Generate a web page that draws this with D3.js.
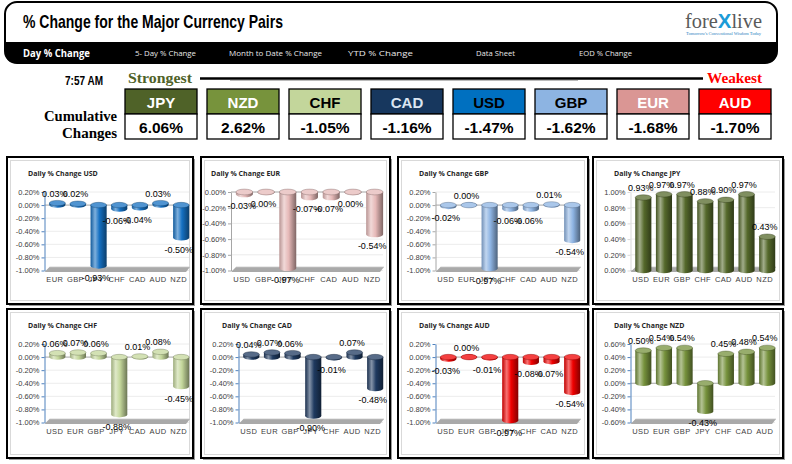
<!DOCTYPE html>
<html><head><meta charset="utf-8">
<script src="https://cdn.jsdelivr.net/npm/d3@7"></script>
<style>body{margin:0;background:#fff}svg{display:block}</style>
</head><body>
<svg id="c" width="792" height="464"></svg>
<script>
// ---------- DATA ----------
const rankCurrencies = ["JPY","NZD","CHF","CAD","USD","GBP","EUR","AUD"];
const cumulativeChanges = [6.06, 2.62, -1.05, -1.16, -1.47, -1.62, -1.68, -1.70];
const navTabs = ["Day % Change","5- Day % Change","Month to Date % Change","YTD % Change","Data Sheet","EOD % Change"];
const timeStamp = "7:57 AM";

const catsUSD = ["EUR","GBP","JPY","CHF","CAD","AUD","NZD"];
const valsUSD = [0.03, 0.02, -0.93, -0.06, -0.04, 0.03, -0.50];
const ticksUSD = [0.2, 0, -0.2, -0.4, -0.6, -0.8, -1.0];

const catsEUR = ["USD","GBP","JPY","CHF","CAD","AUD","NZD"];
const valsEUR = [-0.03, -0.004, -0.97, -0.07, -0.07, -0.004, -0.54];
const ticksEUR = [0, -0.2, -0.4, -0.6, -0.8, -1.0];

const catsGBP = ["USD","EUR","JPY","CHF","CAD","AUD","NZD"];
const valsGBP = [-0.02, 0.00, -0.97, -0.06, -0.06, 0.01, -0.54];
const ticksGBP = [0.2, 0, -0.2, -0.4, -0.6, -0.8, -1.0];

const catsJPY = ["USD","EUR","GBP","CHF","CAD","AUD","NZD"];
const valsJPY = [0.93, 0.97, 0.97, 0.88, 0.90, 0.97, 0.43];
const ticksJPY = [1.0, 0.8, 0.6, 0.4, 0.2, 0];

const catsCHF = ["USD","EUR","GBP","JPY","CAD","AUD","NZD"];
const valsCHF = [0.06, 0.07, 0.06, -0.88, 0.01, 0.08, -0.45];
const ticksCHF = [0.2, 0, -0.2, -0.4, -0.6, -0.8, -1.0];

const catsCAD = ["USD","EUR","GBP","JPY","CHF","AUD","NZD"];
const valsCAD = [0.04, 0.07, 0.06, -0.90, -0.01, 0.07, -0.48];
const ticksCAD = [0.2, 0, -0.2, -0.4, -0.6, -0.8, -1.0];

const catsAUD = ["USD","EUR","GBP","JPY","CHF","CAD","NZD"];
const valsAUD = [-0.03, 0.00, -0.01, -0.97, -0.08, -0.07, -0.54];
const ticksAUD = [0.2, 0, -0.2, -0.4, -0.6, -0.8, -1.0];

const catsNZD = ["USD","EUR","GBP","JPY","CHF","CAD","AUD"];
const valsNZD = [0.50, 0.54, 0.54, -0.43, 0.45, 0.48, 0.54];
const ticksNZD = [0.6, 0.4, 0.2, 0, -0.2, -0.4, -0.6];

const panels = [
  {base:"USD", cats:catsUSD, vals:valsUSD, ticks:ticksUSD},
  {base:"EUR", cats:catsEUR, vals:valsEUR, ticks:ticksEUR},
  {base:"GBP", cats:catsGBP, vals:valsGBP, ticks:ticksGBP},
  {base:"JPY", cats:catsJPY, vals:valsJPY, ticks:ticksJPY},
  {base:"CHF", cats:catsCHF, vals:valsCHF, ticks:ticksCHF},
  {base:"CAD", cats:catsCAD, vals:valsCAD, ticks:ticksCAD},
  {base:"AUD", cats:catsAUD, vals:valsAUD, ticks:ticksAUD},
  {base:"NZD", cats:catsNZD, vals:valsNZD, ticks:ticksNZD}
];

// ---------- STYLE ----------
const boxFill = {JPY:"#4f6228",NZD:"#77933c",CHF:"#c3d69b",CAD:"#17375e",USD:"#0070c0",GBP:"#8db4e2",EUR:"#da9694",AUD:"#ff0000"};
const boxText = {JPY:"#fff",NZD:"#fff",CHF:"#000",CAD:"#dbe5f1",USD:"#000",GBP:"#000",EUR:"#fff",AUD:"#fff"};
const barFill = {USD:"#1570c2",EUR:"#e6b9b8",GBP:"#8eb4e3",JPY:"#55692b",CHF:"#c4d79b",CAD:"#1f3a60",AUD:"#f00000",NZD:"#76923c"};
const axisCol = {USD:"#4f81bd",EUR:"#a6a6a6",GBP:"#a6a6a6",JPY:"#d9d9d9",CHF:"#4f81bd",CAD:"#4f81bd",AUD:"#4f81bd",NZD:"#4f81bd"};

const loc = d3.formatLocale({decimal:".",thousands:",",grouping:[3],currency:["",""],minus:"-"});
const f2 = loc.format(".2f");
const pct = v => f2(v) + "%";

const svg = d3.select("#c");
const defs = svg.append("defs");
const SANS = "'Liberation Sans', Arial, sans-serif";
const NARROW = "'Liberation Sans Narrow', 'Liberation Sans', sans-serif";
const SERIF = "'Liberation Serif', serif";

// ---------- HEADER ----------
svg.append("rect").attr("x",5).attr("y",2).attr("width",772).attr("height",61).attr("rx",12)
  .attr("fill","#fff").attr("stroke","#000").attr("stroke-width",2);
svg.append("path").attr("d","M5,42 H777 V51 Q777,63 765,63 H17 Q5,63 5,51 Z").attr("fill","#000");
svg.append("text").attr("x",23).attr("y",28).attr("font-family",NARROW).attr("font-weight","bold")
  .attr("font-size",19).attr("textLength",260).attr("lengthAdjust","spacingAndGlyphs")
  .attr("fill","#000").text("% Change for the Major Currency Pairs");

const tabX = [23,135,229,348,476,579];
const tabW = [67,61,93,65,39,53];
navTabs.forEach((t,i)=>{
  svg.append("text").attr("x",tabX[i]).attr("y",i===0?57:56)
    .attr("font-family","'Open Sans', sans-serif").attr("font-weight",i===0?"bold":"normal")
    .attr("font-size",i===0?10.5:7.5).attr("fill",i===0?"#fff":"#e6e6e6")
    .attr("textLength",tabW[i]).attr("lengthAdjust","spacingAndGlyphs").text(t);
});
// logo
const logo = svg.append("text").attr("x",685).attr("y",28).attr("font-family",SERIF).attr("font-size",21)
  .attr("textLength",77).attr("lengthAdjust","spacingAndGlyphs");
logo.append("tspan").attr("fill","#5a5a5a").text("fore");
logo.append("tspan").attr("fill","#1b9bd7").attr("font-family",SANS).attr("font-weight","bold").text("X");
logo.append("tspan").attr("fill","#5a5a5a").text("live");
svg.append("text").attr("x",686).attr("y",34.5).attr("font-family",SERIF).attr("font-size",4)
  .attr("fill","#2a7fc0").attr("textLength",75).attr("lengthAdjust","spacingAndGlyphs")
  .text("Tomorrow's Conventional Wisdom Today");

// ---------- STRENGTH ROW ----------
svg.append("text").attr("x",65).attr("y",85).attr("font-family",NARROW).attr("font-weight","bold")
  .attr("font-size",12).attr("textLength",38).attr("lengthAdjust","spacingAndGlyphs").text(timeStamp);
svg.append("text").attr("x",128).attr("y",83).attr("font-family",SERIF).attr("font-weight","bold")
  .attr("font-size",15).attr("fill","#4f6228").attr("textLength",64).attr("lengthAdjust","spacingAndGlyphs").text("Strongest");
svg.append("line").attr("x1",200).attr("x2",703).attr("y1",78.5).attr("y2",78.5).attr("stroke","#000").attr("stroke-width",2.6);
svg.append("line").attr("x1",230).attr("x2",578).attr("y1",80.5).attr("y2",80.5).attr("stroke","#bbb").attr("stroke-width",1.2);
svg.append("text").attr("x",707).attr("y",83).attr("font-family",SERIF).attr("font-weight","bold")
  .attr("font-size",15).attr("fill","#ff0000").attr("textLength",55).attr("lengthAdjust","spacingAndGlyphs").text("Weakest");
svg.append("text").attr("x",117).attr("y",121).attr("text-anchor","end").attr("font-family",SERIF).attr("font-weight","bold")
  .attr("font-size",14.5).attr("textLength",73).attr("lengthAdjust","spacingAndGlyphs").text("Cumulative");
svg.append("text").attr("x",117).attr("y",137.5).attr("text-anchor","end").attr("font-family",SERIF).attr("font-weight","bold")
  .attr("font-size",14.5).attr("textLength",55).attr("lengthAdjust","spacingAndGlyphs").text("Changes");

const boxX = d3.scalePoint().domain(rankCurrencies).range([125, 125+82*7]);
rankCurrencies.forEach((c,i)=>{
  const bx = boxX(c);
  svg.append("rect").attr("x",bx).attr("y",89).attr("width",72).attr("height",25)
    .attr("fill",boxFill[c]).attr("stroke","#000").attr("stroke-width",1.3);
  svg.append("rect").attr("x",bx).attr("y",114).attr("width",72).attr("height",25)
    .attr("fill","#fff").attr("stroke","#000").attr("stroke-width",1.3);
  svg.append("text").attr("x",bx+36).attr("y",107.5).attr("text-anchor","middle").attr("font-family",NARROW)
    .attr("font-weight","bold").attr("font-size",15).attr("fill",boxText[c]).text(c);
  svg.append("text").attr("x",bx+36).attr("y",132.5).attr("text-anchor","middle").attr("font-family",NARROW)
    .attr("font-weight","bold").attr("font-size",15.5).attr("fill","#000").text(pct(cumulativeChanges[i]));
});

// ---------- PANELS ----------
const colX = [7,201,398,593];
const colW = [186,189,190,190];
const rowY = [157,309];
const rowH = [147,149];

panels.forEach((p,i)=>{
  const col = i%4, row = Math.floor(i/4);
  const px = colX[col], pw = colW[col], py = rowY[row], ph = rowH[row];
  const special = (i===1);
  const g = svg.append("g");
  const cid = "clip"+i;
  defs.append("clipPath").attr("id",cid).append("rect").attr("x",px).attr("y",py).attr("width",pw).attr("height",ph);

  g.append("rect").attr("x",px+2).attr("y",py+2).attr("width",pw).attr("height",ph).attr("fill","#9a9a9a");
  g.append("rect").attr("x",px).attr("y",py).attr("width",pw).attr("height",ph).attr("fill","#fff");
  const inner = g.append("g").attr("clip-path",`url(#${cid})`);
  inner.append("rect").attr("x",px+3.5).attr("y",py+3.5).attr("width",pw-7).attr("height",ph-7)
    .attr("fill","none").attr("stroke","#d9d9d9").attr("stroke-width",1);

  const ax = px + (special ? 30 : 37.5);
  const pr = px + 182;
  const yTop = py + 35, yBot = py + 113.5;
  const y = d3.scaleLinear().domain(d3.extent(p.ticks)).range([yBot, yTop]);
  const x = d3.scaleBand().domain(p.cats).range([ax, pr]).padding(0);

  inner.append("text").attr("x", px + (special ? 10 : 21)).attr("y", py + 19)
    .attr("font-family","'Open Sans', sans-serif").attr("font-weight","bold").attr("font-size",7)
    .attr("fill","#262626").text("Daily % Change " + p.base);

  // gridlines
  inner.selectAll(null).data(p.ticks).enter().append("line")
    .attr("x1",ax).attr("x2",pr).attr("y1",d=>y(d)).attr("y2",d=>y(d))
    .attr("stroke",d=>d===0?"#a6a6a6":"#ececec").attr("stroke-width",1);

  // floor
  const yb = yBot;
  inner.append("polygon")
    .attr("points",`${ax},${yb+1.5} ${pr-3},${yb+1.5} ${pr+1},${yb-3.5} ${ax+5},${yb-3.5}`)
    .attr("fill","#a9a9a9");
  inner.append("line").attr("x1",ax+5).attr("x2",pr+1).attr("y1",yb-3.5).attr("y2",yb-3.5).attr("stroke","#c9c9c9").attr("stroke-width",0.8);

  // axis
  const yAxis = d3.axisLeft(y).tickValues(p.ticks).tickSize(3).tickSizeOuter(0).tickPadding(2).tickFormat(pct);
  const ag = inner.append("g").attr("transform",`translate(${ax},0)`).call(yAxis);
  ag.select(".domain").attr("stroke",axisCol[p.base]).attr("stroke-width",1);
  ag.selectAll(".tick line").attr("stroke",axisCol[p.base]);
  ag.selectAll(".tick text").attr("font-family",SANS).attr("font-size",7.5).attr("fill","#404040");

  const xAxis = d3.axisBottom(x).tickSize(0).tickPadding(0);
  const xg = inner.append("g").attr("transform",`translate(0,${py+120})`).call(xAxis);
  xg.select(".domain").remove();
  xg.selectAll(".tick text").attr("font-family",SANS).attr("font-size",7.5).attr("fill","#404040")
    .attr("letter-spacing",0.4);

  // gradient
  const base = barFill[p.base];
  const light = d3.interpolateRgb(base,"#ffffff")(0.45);
  const dark = d3.interpolateRgb(base,"#000000")(0.45);
  const capC = d3.interpolateRgb(base,"#ffffff")(0.25);
  const gid = "grad"+i;
  const lg = defs.append("linearGradient").attr("id",gid).attr("x1",0).attr("x2",1).attr("y1",0).attr("y2",0);
  [[0,d3.interpolateRgb(base,"#000")(0.2)],[0.28,light],[0.55,base],[1,dark]].forEach(s=>
    lg.append("stop").attr("offset",s[0]).attr("stop-color",s[1]));

  const bw = x.bandwidth()*0.78;
  const shift = 2.5;
  const ry = bw*0.17;
  const bars = inner.selectAll(null).data(p.cats.map((c,k)=>({c, v:p.vals[k]}))).enter().append("g");
  bars.each(function(d){
    const gg = d3.select(this);
    const cx = x(d.c) + x.bandwidth()/2 + shift;
    const y0 = y(0), y1 = y(d.v);
    const top = Math.min(y0,y1), bot = Math.max(y0,y1);
    gg.append("ellipse").attr("cx",cx).attr("cy",bot).attr("rx",bw/2).attr("ry",ry).attr("fill",`url(#${gid})`);
    gg.append("rect").attr("x",cx-bw/2).attr("y",top).attr("width",bw).attr("height",Math.max(0,bot-top))
      .attr("fill",`url(#${gid})`);
    gg.append("ellipse").attr("cx",cx).attr("cy",top).attr("rx",bw/2).attr("ry",ry)
      .attr("fill",capC).attr("stroke",dark).attr("stroke-width",0.4);
  });
  // value labels
  inner.selectAll(null).data(p.cats.map((c,k)=>({c, v:p.vals[k]}))).enter().append("text")
    .attr("x",d=>x(d.c)+x.bandwidth()/2)
    .attr("y",d=> d.v>=0 ? y(d.v)-6.5 : y(d.v)+15)
    .attr("text-anchor","middle").attr("font-family",SANS).attr("font-size",9).attr("fill","#000")
    .text(d=>pct(d.v));

  g.append("rect").attr("x",px).attr("y",py).attr("width",pw).attr("height",ph)
    .attr("fill","none").attr("stroke","#000").attr("stroke-width",2);
});
</script>
</body></html>
